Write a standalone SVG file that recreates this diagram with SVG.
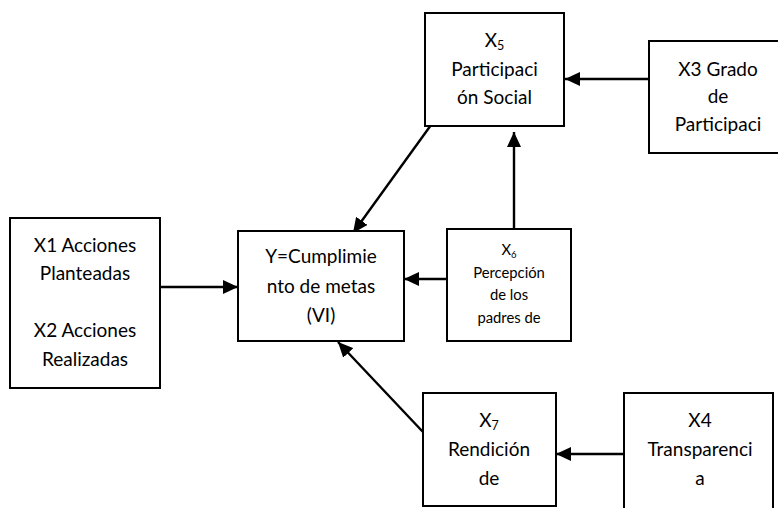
<svg xmlns="http://www.w3.org/2000/svg" width="778" height="508" viewBox="0 0 778 508">
<style>
.box{fill:#fff;stroke:#000;stroke-width:2}
.t{font-family:Lato,"Liberation Sans",sans-serif;font-size:19px;fill:#000;text-anchor:middle}
.s{font-family:Lato,"Liberation Sans",sans-serif;font-size:14.8px;fill:#000;text-anchor:middle}
.c{stroke:#000;stroke-width:2.4;fill:none;marker-end:url(#ah)}
</style>
<defs>
<marker id="ah" markerUnits="userSpaceOnUse" markerWidth="16" markerHeight="14" refX="15" refY="7" orient="auto">
<path d="M0,0 L15,7 L0,14 z" fill="#000"/>
</marker>
</defs>
<rect width="778" height="508" fill="#fff"/>
<g id="connectors">
<line class="c" x1="160" y1="287" x2="238" y2="287"/>
<line class="c" x1="447" y1="279" x2="404" y2="279"/>
<line class="c" x1="514" y1="229" x2="514" y2="132"/>
<line class="c" x1="649" y1="79" x2="565" y2="79"/>
<line class="c" x1="431" y1="125" x2="353" y2="233"/>
<line class="c" x1="423" y1="432" x2="338" y2="342"/>
<line class="c" x1="624" y1="454" x2="556" y2="454"/>
</g>
<g id="x1x2">
<rect class="box" x="10" y="218" width="150" height="170"/>
<text class="t" x="85" y="251.5">X1 Acciones</text>
<text class="t" x="85" y="280">Planteadas</text>
<text class="t" x="85" y="337">X2 Acciones</text>
<text class="t" x="85" y="365.5">Realizadas</text>
</g>
<g id="y">
<rect class="box" x="238" y="231" width="166" height="110"/>
<text class="t" x="321" y="263">Y=Cumplimie</text>
<text class="t" x="321" y="292.5">nto de metas</text>
<text class="t" x="321" y="321.5">(VI)</text>
</g>
<g id="x6">
<rect class="box" x="447" y="229" width="124" height="112"/>
<text class="s" x="509" y="255">X<tspan font-size="9.5" dy="3">6</tspan></text>
<text class="s" x="509" y="278">Percepción</text>
<text class="s" x="509" y="300">de los</text>
<text class="s" x="509" y="322.5">padres de</text>
</g>
<g id="x5">
<rect class="box" x="425" y="13" width="139" height="113"/>
<text class="t" x="494.5" y="46.5">X<tspan font-size="12.5" dy="3">5</tspan></text>
<text class="t" x="494.5" y="76">Participaci</text>
<text class="t" x="494.5" y="104">ón Social</text>
</g>
<g id="x3">
<rect class="box" x="649" y="41" width="140" height="112"/>
<text class="t" x="718" y="76">X3 Grado</text>
<text class="t" x="718" y="103">de</text>
<text class="t" x="718" y="131">Participaci</text>
</g>
<g id="x7">
<rect class="box" x="423" y="393" width="133" height="113"/>
<text class="t" x="489" y="426.5">X<tspan font-size="12.5" dy="3">7</tspan></text>
<text class="t" x="489" y="456">Rendición</text>
<text class="t" x="489" y="484.5">de</text>
</g>
<g id="x4">
<rect class="box" x="624" y="393" width="149" height="125"/>
<text class="t" x="700" y="426.5">X4</text>
<text class="t" x="700" y="456">Transparenci</text>
<text class="t" x="700" y="484.5">a</text>
</g>
</svg>
